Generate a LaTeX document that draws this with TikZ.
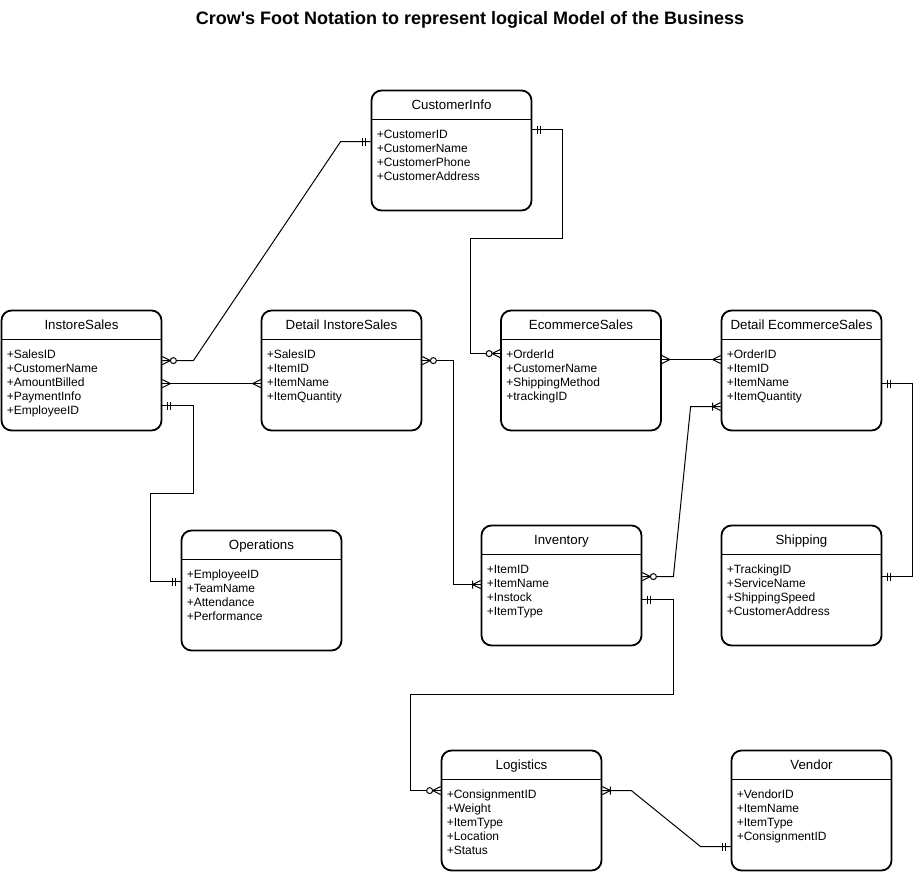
\documentclass[tikz,border=0pt]{standalone}
\usepackage{fontspec}
\setmainfont{Liberation Sans}
\usetikzlibrary{positioning}
\tikzset{ent/.style={draw, line width=1.8pt, rounded corners=10pt, minimum width=160pt, minimum height=120pt, inner sep=0pt}}
\tikzset{enttitle/.style={anchor=base, inner sep=0pt, font=\fontsize{13.3}{16}\selectfont}}
\tikzset{attrs/.style={anchor=north west, inner sep=0pt, align=left, font=\fontsize{12}{14}\selectfont}}
\tikzset{rel/.style={line width=1pt}}
\tikzset{many/.pic={\draw[line width=1pt] (0,-4) -- (8,0) -- (0,4);}}
\tikzset{zeromany/.pic={\draw[line width=1pt] (0,-4) -- (8,0) -- (0,4); \draw[line width=1pt, fill=white] (11,0) circle[radius=3pt];}}
\tikzset{one/.pic={\draw[line width=1pt] (5,-4) -- (5,4) (8,-4) -- (8,4);}}
\tikzset{onemany/.pic={\draw[line width=1pt] (0,-4) -- (8,0) -- (0,4) (8,-4) -- (8,4);}}
\newcommand{\erbox}[4]{%
    \node[ent] (#1) at (#2) {};
    \node[enttitle] (#1-t) at ([yshift=-20pt]#1.north) {#3};
    \draw[line width=1.5pt] ([yshift=-30pt]#1.north west) -- ([yshift=-30pt]#1.north east);
    \node[attrs] (#1-a) at ([shift={(6pt,-40pt)}]#1.north west) {#4};
}
\begin{document}
\begin{tikzpicture}[x=1pt, y=-1pt]
            \useasboundingbox (0,0) rectangle (922,872);
            \node[font=\fontsize{18}{21}\selectfont\bfseries] (title) at (470,20) {Crow\textquotesingle s Foot Notation to represent logical Model of the Business};
            \erbox{cust}{451.5,150.5}{CustomerInfo}{+CustomerID\\+CustomerName\\+CustomerPhone\\+CustomerAddress}
            \erbox{inst}{81.5,370.5}{InstoreSales}{+SalesID\\+CustomerName\\+AmountBilled\\+PaymentInfo\\+EmployeeID}
            \erbox{dinst}{341.5,370.5}{Detail InstoreSales}{+SalesID\\+ItemID\\+ItemName\\+ItemQuantity}
            \erbox{ecom}{581,370.5}{EcommerceSales}{+OrderId\\+CustomerName\\+ShippingMethod\\+trackingID}
            \erbox{dec}{801.5,370.5}{Detail EcommerceSales}{+OrderID\\+ItemID\\+ItemName\\+ItemQuantity}
            \erbox{ops}{261.5,590.5}{Operations}{+EmployeeID\\+TeamName\\+Attendance\\+Performance}
            \erbox{inv}{561.5,585.5}{Inventory}{+ItemID\\+ItemName\\+Instock\\+ItemType}
            \erbox{ship}{801.5,585.5}{Shipping}{+TrackingID\\+ServiceName\\+ShippingSpeed\\+CustomerAddress}
            \erbox{log}{521.5,810.5}{Logistics}{+ConsignmentID\\+Weight\\+ItemType\\+Location\\+Status}
            \erbox{vend}{811.5,810.5}{Vendor}{+VendorID\\+ItemName\\+ItemType\\+ConsignmentID}

            \coordinate (i1) at ([yshift=-51pt]inst.north east);
            \coordinate (c1) at ([yshift=-52pt]cust.north west);
            \draw[rel] (i1) -- ++(31,0) -- ([xshift=-30pt]c1) -- (c1);
            \path (i1) pic {zeromany} (c1) pic[rotate=180] {one};

            \coordinate (i2) at ([yshift=-74pt]inst.north east);
            \coordinate (d2) at ([yshift=-74pt]dinst.north west);
            \draw[rel] (i2) -- (d2);
            \path (i2) pic {many} (d2) pic[rotate=180] {many};

            \coordinate (i3) at ([yshift=-96pt]inst.north east);
            \coordinate (o3) at ([yshift=-52pt]ops.north west);
            \draw[rel] (i3) -- ++(31,0) -- ++(0,88) -| ([xshift=-30pt]o3) -- (o3);
            \path (i3) pic {one} (o3) pic[rotate=180] {one};

            \coordinate (d4) at ([yshift=-51pt]dinst.north east);
            \coordinate (v4) at ([yshift=-60pt]inv.north west);
            \draw[rel] (d4) -- ++(31,0) |- (v4);
            \path (d4) pic {zeromany} (v4) pic[rotate=180] {onemany};

            \coordinate (c5) at ([yshift=-40pt]cust.north east);
            \coordinate (e5) at ([yshift=-44pt]ecom.north west);
            \draw[rel] (c5) -- ++(30,0) -- ++(0,109) -| ([xshift=-30pt]e5) -- (e5);
            \path (c5) pic {one} (e5) pic[rotate=180] {zeromany};

            \coordinate (e6) at ([yshift=-50pt]ecom.north east);
            \coordinate (x6) at ([yshift=-50pt]dec.north west);
            \draw[rel] (e6) -- (x6);
            \path (e6) pic {many} (x6) pic[rotate=180] {many};

            \coordinate (v7) at ([yshift=-52pt]inv.north east);
            \coordinate (x7) at ([yshift=-97pt]dec.north west);
            \draw[rel] (v7) -- ++(31,0) -- ([xshift=-30pt]x7) -- (x7);
            \path (v7) pic {zeromany} (x7) pic[rotate=180] {onemany};

            \coordinate (x8) at ([yshift=-74pt]dec.north east);
            \coordinate (s8) at ([yshift=-52pt]ship.north east);
            \draw[rel] (x8) -- ++(30,0) |- (s8);
            \path (x8) pic {one} (s8) pic {one};

            \coordinate (v9) at ([yshift=-75pt]inv.north east);
            \coordinate (l9) at ([yshift=-41pt]log.north west);
            \draw[rel] (v9) -- ++(31,0) -- ++(0,95) -| ([xshift=-30pt]l9) -- (l9);
            \path (v9) pic {one} (l9) pic[rotate=180] {zeromany};

            \coordinate (l10) at ([yshift=-41pt]log.north east);
            \coordinate (n10) at ([yshift=-97pt]vend.north west);
            \draw[rel] (l10) -- ++(29,0) -- ([xshift=-30pt]n10) -- (n10);
            \path (l10) pic {onemany} (n10) pic[rotate=180] {one};
        \end{tikzpicture}
\end{document}
